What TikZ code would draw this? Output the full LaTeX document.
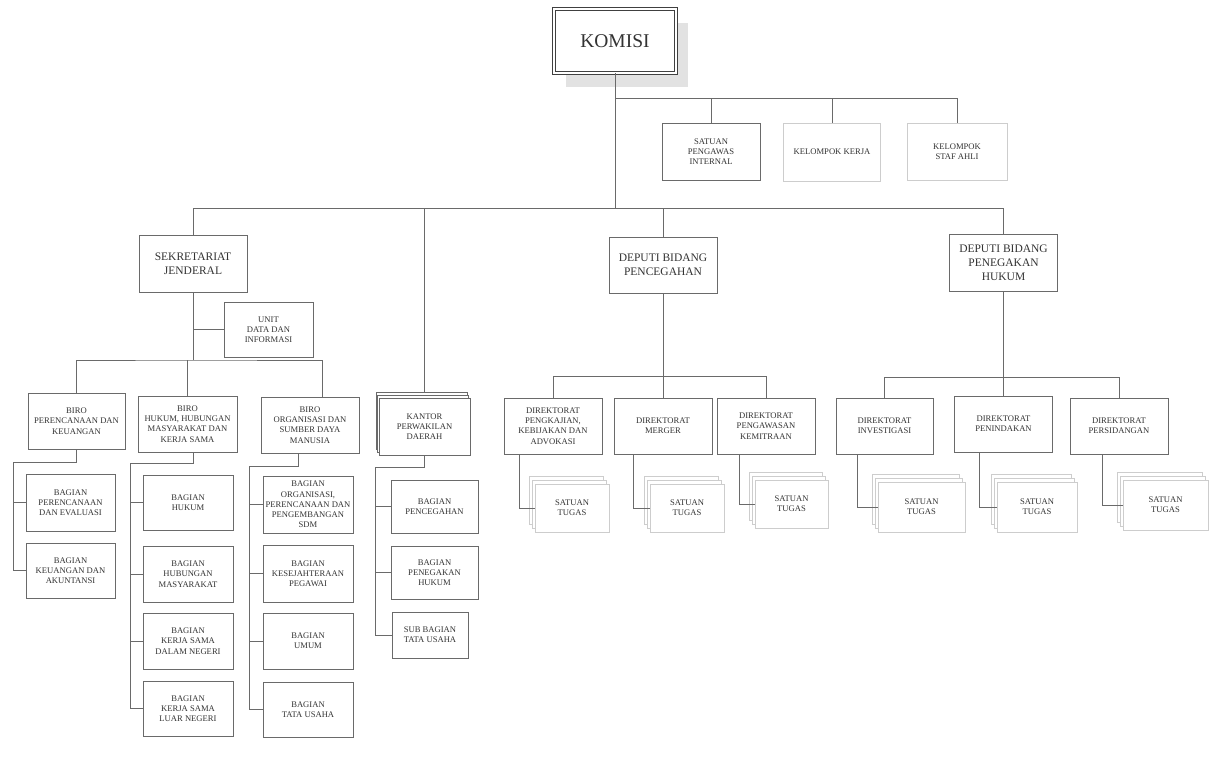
\documentclass[tikz,border=0pt]{standalone}
\usepackage{fontspec}
\setmainfont{Liberation Serif}
\usetikzlibrary{shadows}
\definecolor{linegray}{HTML}{6A6A6A}
\definecolor{faintgray}{HTML}{CDCDCD}
\definecolor{inkgray}{HTML}{333333}
\definecolor{shadegray}{HTML}{E2E2E2}
\newcommand\unitfont{\fontsize{8.6}{10.2}\selectfont}
\newcommand\headfont{\fontsize{11.5}{14}\selectfont}
\newcommand\topfont{\fontsize{19.5}{22}\selectfont}
\tikzset{
  unit/.style={draw=linegray, line width=0.8pt, fill=white, text=inkgray, align=center, inner sep=1pt, font=\unitfont},
  faintunit/.style={unit, draw=faintgray},
  head/.style={unit, font=\headfont},
  stack/.style={faintunit,
    general shadow={shadow scale=1, shadow xshift=-6pt, shadow yshift=8pt, draw=faintgray, line width=0.8pt, fill=white},
    general shadow={shadow scale=1, shadow xshift=-3pt, shadow yshift=4pt, draw=faintgray, line width=0.8pt, fill=white}},
  link/.style={draw=linegray, line width=0.8pt},
}

\begin{document}
\begin{tikzpicture}[x=1pt, y=-1pt]
  \useasboundingbox (0,0) rectangle (1209,767);

  \node[unit, font=\topfont, minimum width=122, minimum height=64, draw=black!75, double=white, double distance=2.2pt,
    general shadow={shadow scale=1, shadow xshift=12pt, shadow yshift=-14pt, fill=shadegray, draw=none}]
    (komisi) at (615,41) {KOMISI};

  \node[unit, minimum width=98, minimum height=57] (spi) at (711,151.5) {SATUAN\\PENGAWAS\\INTERNAL};
  \node[faintunit, minimum width=97, minimum height=58] (kk) at (832,152) {KELOMPOK KERJA};
  \node[faintunit, minimum width=100, minimum height=57] (staf) at (957,151.5) {KELOMPOK\\STAF AHLI};

  \node[head, minimum width=108, minimum height=57] (sekjen) at (193,263.5) {SEKRETARIAT\\JENDERAL};
  \node[head, minimum width=108, minimum height=56] (pencegahan) at (663,265) {DEPUTI BIDANG\\PENCEGAHAN};
  \node[head, minimum width=108, minimum height=57] (penegakan) at (1003.5,262.5) {DEPUTI BIDANG\\PENEGAKAN\\HUKUM};

  \node[unit, minimum width=89, minimum height=55] (unitdata) at (268.5,329.5) {UNIT\\DATA DAN\\INFORMASI};

  \node[unit, minimum width=97, minimum height=56] (birokeu) at (76.5,421) {BIRO\\PERENCANAAN DAN\\KEUANGAN};
  \node[unit, minimum width=99, minimum height=56] (birohukum) at (187.5,424) {BIRO\\HUKUM, HUBUNGAN\\MASYARAKAT DAN\\KERJA SAMA};
  \node[unit, minimum width=98, minimum height=56] (biroorg) at (310,425) {BIRO\\ORGANISASI DAN\\SUMBER DAYA\\MANUSIA};

  \node[unit, minimum width=89, minimum height=57] (bagrenev) at (70.5,502.5) {BAGIAN\\PERENCANAAN\\DAN EVALUASI};
  \node[unit, minimum width=89, minimum height=55] (bagkeuak) at (70.5,570.5) {BAGIAN\\KEUANGAN DAN\\AKUNTANSI};

  \node[unit, minimum width=90, minimum height=55] (baghukum) at (188,502.5) {BAGIAN\\HUKUM};
  \node[unit, minimum width=90, minimum height=56] (baghumas) at (188,574) {BAGIAN\\HUBUNGAN\\MASYARAKAT};
  \node[unit, minimum width=90, minimum height=56] (bagksdn) at (188,641) {BAGIAN\\KERJA SAMA\\DALAM NEGERI};
  \node[unit, minimum width=90, minimum height=55] (bagksln) at (188,708.5) {BAGIAN\\KERJA SAMA\\LUAR NEGERI};

  \node[unit, minimum width=90, minimum height=57] (bagorg) at (308,504.5) {BAGIAN\\ORGANISASI,\\PERENCANAAN DAN\\PENGEMBANGAN\\SDM};
  \node[unit, minimum width=90, minimum height=57] (bagkesej) at (308,573.5) {BAGIAN\\KESEJAHTERAAN\\PEGAWAI};
  \node[unit, minimum width=90, minimum height=56] (bagumum) at (308,641) {BAGIAN\\UMUM};
  \node[unit, minimum width=90, minimum height=55] (bagtu) at (308,709.5) {BAGIAN\\TATA USAHA};

  \node[unit, minimum width=91, minimum height=57,
    general shadow={shadow scale=1, shadow xshift=-3pt, shadow yshift=6pt, draw=linegray, line width=0.8pt, fill=white},
    general shadow={shadow scale=1, shadow xshift=-1.5pt, shadow yshift=3pt, draw=linegray, line width=0.8pt, fill=white}]
    (kantor) at (424.5,426.5) {KANTOR\\PERWAKILAN\\DAERAH};
  \node[unit, minimum width=87, minimum height=53] (bagcegah) at (434.5,506.5) {BAGIAN\\PENCEGAHAN};
  \node[unit, minimum width=87, minimum height=53] (baggakkum) at (434.5,572.5) {BAGIAN\\PENEGAKAN\\HUKUM};
  \node[unit, minimum width=76, minimum height=46] (subtu) at (430,635) {SUB BAGIAN\\TATA USAHA};

  \node[unit, minimum width=98, minimum height=56] (dirkaji) at (553,426) {DIREKTORAT\\PENGKAJIAN,\\KEBIJAKAN DAN\\ADVOKASI};
  \node[unit, minimum width=98, minimum height=56] (dirmerger) at (663,426) {DIREKTORAT\\MERGER};
  \node[unit, minimum width=98, minimum height=56] (dirmitra) at (766,426) {DIREKTORAT\\PENGAWASAN\\KEMITRAAN};

  \node[unit, minimum width=97, minimum height=56] (dirinv) at (884.5,426) {DIREKTORAT\\INVESTIGASI};
  \node[unit, minimum width=98, minimum height=56] (dirtindak) at (1003.5,424) {DIREKTORAT\\PENINDAKAN};
  \node[unit, minimum width=98, minimum height=56] (dirsidang) at (1119,426) {DIREKTORAT\\PERSIDANGAN};

  \node[stack, minimum width=74, minimum height=48] (tugaskaji) at (572,508) {SATUAN\\TUGAS};
  \node[stack, minimum width=74, minimum height=48] (tugasmerger) at (687,508) {SATUAN\\TUGAS};
  \node[stack, minimum width=73, minimum height=48] (tugasmitra) at (791.5,504) {SATUAN\\TUGAS};
  \node[stack, minimum width=87, minimum height=50] (tugasinv) at (921.5,507) {SATUAN\\TUGAS};
  \node[stack, minimum width=80, minimum height=50] (tugastindak) at (1037,507) {SATUAN\\TUGAS};
  \node[stack, minimum width=85, minimum height=50] (tugassidang) at (1165.5,505) {SATUAN\\TUGAS};

  \coordinate (topbus) at (615,98);
  \coordinate (mainbus) at (615,208);
  \coordinate (birobus) at (193,360);

  \draw[link] (komisi.south) -- (mainbus);
  \draw[link] (topbus) -| (staf.north);
  \draw[link] (spi.north) -- (spi.north |- topbus);
  \draw[link] (kk.north) -- (kk.north |- topbus);
  \draw[link] (sekjen.north) |- (mainbus -| penegakan.north) -- (penegakan.north);
  \draw[link] ([yshift=6pt]kantor.north) -- (kantor.north |- mainbus);
  \draw[link] (pencegahan.north) -- (pencegahan.north |- mainbus);

  \draw[link] (sekjen.south) -- (birobus);
  \draw[link] (unitdata.west) -- (unitdata.west -| sekjen.south);
  \draw[link] (birokeu.north) |- (birobus) -| ([xshift=12pt]biroorg.north);
  \draw[link] (birohukum.north) -- (birohukum.north |- birobus);

  \draw[link] (birokeu.south) -- ++(0,13) -| ([xshift=-12pt]bagrenev.west) |- (bagkeuak.west);
  \draw[link] (bagrenev.west) -- ++(-12,0);
  \draw[link] ([xshift=5.5pt]birohukum.south) -- ++(0,11) -| ([xshift=-12pt]baghukum.west) |- (bagksln.west);
  \draw[link] (baghukum.west) -- ++(-12,0);
  \draw[link] (baghumas.west) -- ++(-12,0);
  \draw[link] (bagksdn.west) -- ++(-12,0);
  \draw[link] ([xshift=-12pt]biroorg.south) -- ++(0,13) -| ([xshift=-13pt]bagorg.west) |- (bagtu.west);
  \draw[link] (bagorg.west) -- ++(-13,0);
  \draw[link] (bagkesej.west) -- ++(-13,0);
  \draw[link] (bagumum.west) -- ++(-13,0);

  \draw[link] (kantor.south) -- ++(0,12) -| ([xshift=-15pt]bagcegah.west) |- (subtu.west);
  \draw[link] (bagcegah.west) -- ++(-15,0);
  \draw[link] (baggakkum.west) -- ++(-15,0);

  \draw[link] (pencegahan.south) -- (dirmerger.north);
  \draw[link] (dirkaji.north) |- ([yshift=21pt]dirmerger.north) -| (dirmitra.north);
  \draw[link] (penegakan.south) -- (dirtindak.north);
  \draw[link] (dirinv.north) |- ([yshift=18pt]dirtindak.north) -| (dirsidang.north);

  \draw[link] ([xshift=-34pt]dirkaji.south) |- (tugaskaji.west);
  \draw[link] ([xshift=-30pt]dirmerger.south) |- (tugasmerger.west);
  \draw[link] ([xshift=-27pt]dirmitra.south) |- (tugasmitra.west);
  \draw[link] ([xshift=-27.5pt]dirinv.south) |- (tugasinv.west);
  \draw[link] ([xshift=-24pt]dirtindak.south) |- (tugastindak.west);
  \draw[link] ([xshift=-17pt]dirsidang.south) |- (tugassidang.west);
\end{tikzpicture}
\end{document}
